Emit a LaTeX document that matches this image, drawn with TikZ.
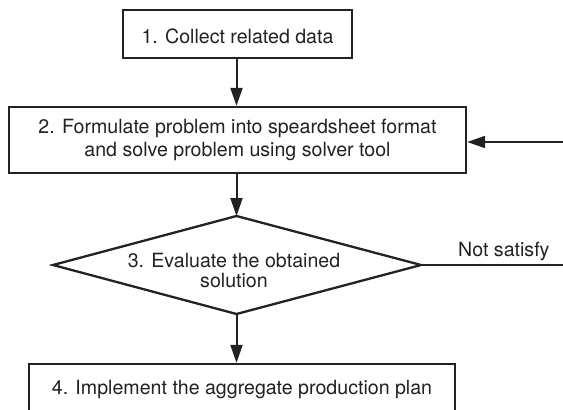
\documentclass[tikz,border=0pt]{standalone}
\usepackage{fontspec}
\setmainfont{TeX Gyre Heros}
\usetikzlibrary{arrows.meta}
\definecolor{ink}{HTML}{222222}
\begin{document}
\begin{tikzpicture}[x=1pt,y=-1pt,
  box/.style={draw=ink, line width=2.3pt, fill=white, inner sep=0pt, align=center,
    text=ink, font=\fontsize{19.6}{23}\selectfont},
  lbl/.style={inner sep=0pt, align=center, text=ink, font=\fontsize{19.6}{20}\selectfont},
  flow/.style={draw=ink, line width=2pt, -{Triangle[length=18pt,width=12pt]}},
  plain/.style={draw=ink, line width=2pt}]
\useasboundingbox (0,0) rectangle (563,410);
\clip (0,0) rectangle (563,410);
\node[box, minimum width=229pt, minimum height=48pt, text height=18pt, text depth=0pt]
  (b1) at (237.5,34) {1. Collect related data};
\node[box, minimum width=457pt, minimum height=66pt] (b2) at (237.5,140)
  {2. Formulate problem into speardsheet format\\and solve problem using solver tool};
\coordinate (dt) at (236.5,216);
\coordinate (dl) at (53,265);
\coordinate (dr) at (421,265);
\coordinate (db) at (236.5,314);
\draw[ink, line width=2.3pt, line join=miter] (dt) -- (dr) -- (db) -- (dl) -- cycle;
\node[lbl] (b3) at (234,270.9) {3. Evaluate the obtained\\solution};
\node[box, minimum width=426pt, minimum height=50pt, text height=14pt, text depth=4pt]
  (b4) at (242,389) {4. Implement the aggregate production plan};
\coordinate (rin) at (563,142);
\coordinate (rout) at (563,265);
\node[lbl, anchor=base west] (ns) at (458,256) {Not satisfy};
\draw[flow] (b1.south -| dt) -- (b2.north -| dt);
\draw[flow] (rin) -- (b2.east |- rin);
\draw[flow] (b2.south -| dt) -- (dt);
\draw[plain] (dr) -- (rout);
\draw[flow] (db) -- (b4.north -| db);
\end{tikzpicture}
\end{document}
